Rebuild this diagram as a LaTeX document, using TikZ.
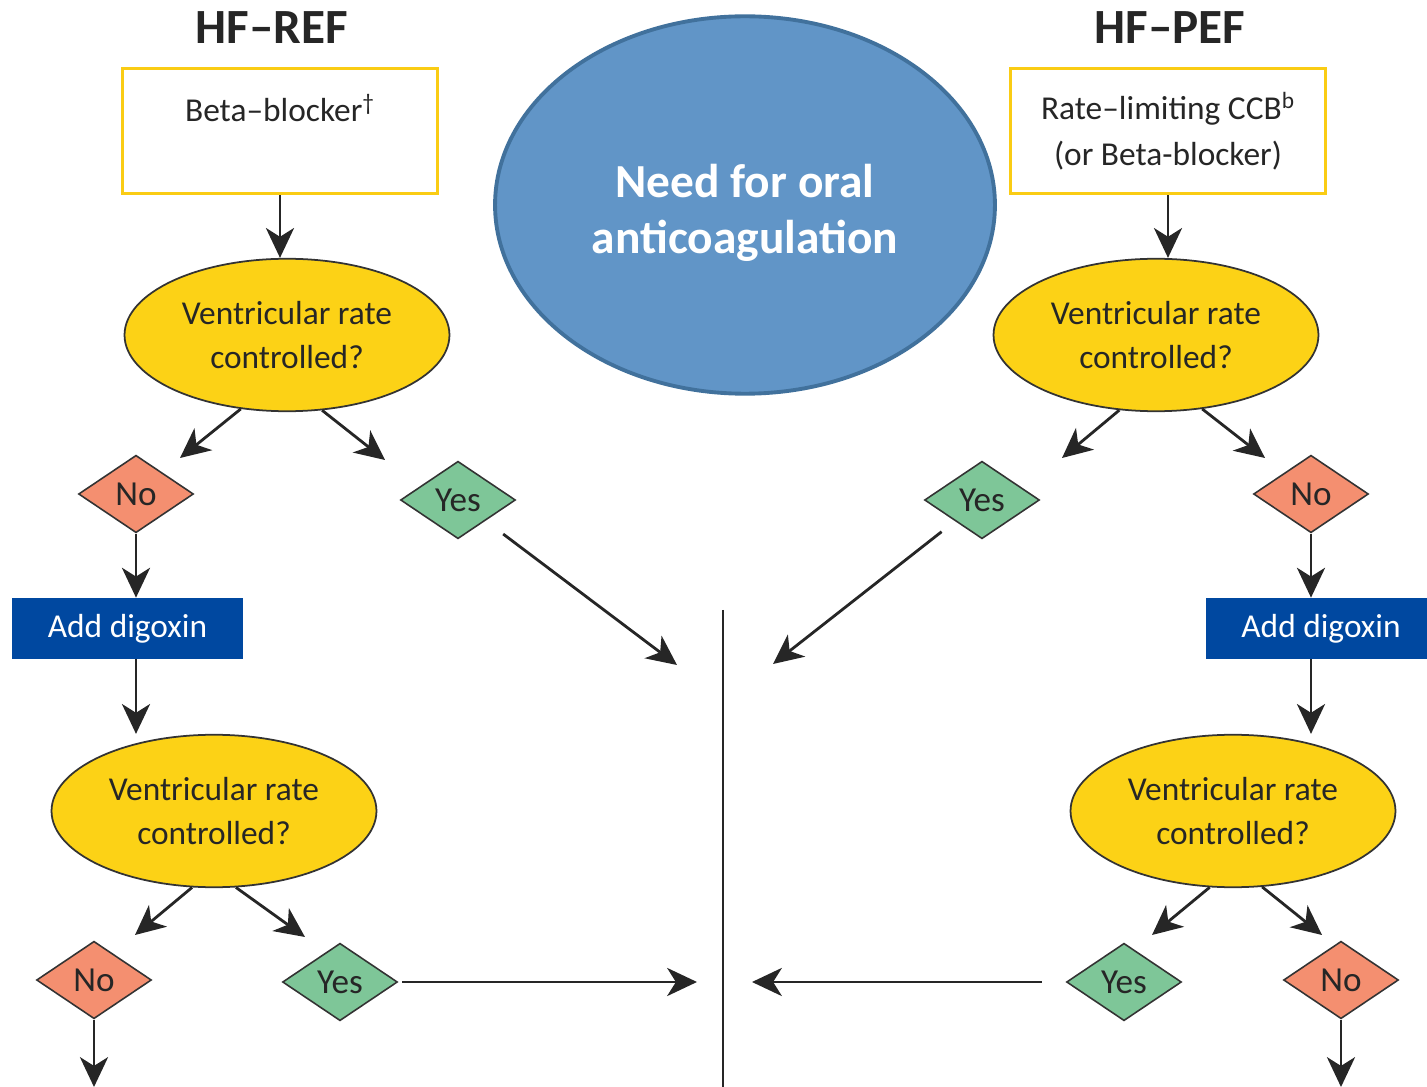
\documentclass[tikz,border=0pt]{standalone}
\usepackage{fontspec}
\setmainfont{Carlito}
\usetikzlibrary{shapes.geometric,arrows.meta}
\definecolor{boxgold}{RGB}{250,204,20}
\definecolor{rateyellow}{RGB}{252,210,22}
\definecolor{nosalmon}{RGB}{244,143,112}
\definecolor{yesgreen}{RGB}{126,198,152}
\definecolor{digblue}{RGB}{0,72,160}
\definecolor{oacblue}{RGB}{97,149,199}
\definecolor{oacborder}{RGB}{65,113,156}
\begin{document}
\begin{tikzpicture}[x=0.02cm, y=-0.02cm,
	heading/.style={font=\fontsize{28}{30}\selectfont\bfseries, text=black!85},
	drug box/.style={draw=boxgold, line width=1.8pt, fill=white, minimum width=6.3cm, minimum height=2.5cm, align=center, font=\fontsize{19}{26}\selectfont, text=black!85},
	rate/.style={ellipse, draw=black!80, line width=1pt, fill=rateyellow, minimum width=6.5cm, minimum height=3.05cm, inner sep=0pt, align=center, font=\fontsize{19}{25}\selectfont, text=black!85},
	no dia/.style={diamond, draw=black!80, line width=0.9pt, fill=nosalmon, minimum width=2.3cm, minimum height=1.55cm, inner sep=0pt, font=\fontsize{20}{22}\selectfont, text=black!85},
	yes dia/.style={no dia, fill=yesgreen},
	digoxin/.style={fill=digblue, text=white, inner sep=0pt, minimum width=4.62cm, minimum height=1.22cm, font=\fontsize{19}{22}\selectfont},
	oac/.style={ellipse, fill=oacblue, draw=oacborder, line width=2.2pt, minimum width=10cm, minimum height=7.55cm},
	oac text/.style={align=center, text=white, font=\fontsize{27}{32}\selectfont\bfseries},
	arr/.style={-{Stealth[length=17pt, width=16pt, inset=5pt]}, line width=1.6pt, black!85}]
		\useasboundingbox (0,0) rectangle (1427,1087);
		% headings and first drugs
		\node[heading] (titleref) at (272,28) {HF–REF};
		\node[heading] (titlepef) at (1170,28) {HF–PEF};
		\node[drug box] (betabox) at (280,131) {Beta–blocker\textsuperscript{†}\\ ~};
		\node[drug box] (ccbbox) at (1168,131) {Rate–limiting CCB\textsuperscript{b}\\(or Beta-blocker)};
		\node[oac] (needoac) at (745,205) {};
		\node[oac text] (oaclabel) at (745,213) {Need for oral\\anticoagulation};
		% rate control questions
		\node[rate] (vrl1) at (287,335) {Ventricular rate\\controlled?};
		\node[rate] (vrr1) at (1156,335) {Ventricular rate\\controlled?};
		\node[rate] (vrl2) at (214,811) {Ventricular rate\\controlled?};
		\node[rate] (vrr2) at (1233,811) {Ventricular rate\\controlled?};
		% answers
		\node[no dia] (nol1) at (136,494) {No};
		\node[yes dia] (yesl1) at (458,500) {Yes};
		\node[yes dia] (yesr1) at (982,500) {Yes};
		\node[no dia] (nor1) at (1311,494) {No};
		\node[no dia] (nol2) at (94,980) {No};
		\node[yes dia] (yesl2) at (340,982) {Yes};
		\node[yes dia] (yesr2) at (1124,982) {Yes};
		\node[no dia] (nor2) at (1341,980) {No};
		\node[digoxin] (digl) at (127.5,628.5) {Add digoxin};
		\node[digoxin] (digr) at (1321,628.5) {Add digoxin};
		% free ends
		\coordinate (tipl1no) at (180,458);
		\coordinate (tipl1yes) at (385,460);
		\coordinate (tipr1yes) at (1062,458);
		\coordinate (tipr1no) at (1265,458);
		\coordinate (tipl2no) at (135,935);
		\coordinate (tipl2yes) at (305,937);
		\coordinate (tipr2yes) at (1152,935);
		\coordinate (tipr2no) at (1322,935);
		\coordinate (midl1) at (677,665);
		\coordinate (midr1) at (773,664);
		\coordinate (midl2) at (697,982);
		\coordinate (midr2) at (752,982);
		\coordinate (outl) at (94,1087);
		\coordinate (outr) at (1341,1087);
		\coordinate (midtop) at (723,610);
		\coordinate (midbot) at (723,1087);
		% connectors
		\draw[arr] (betabox.south) -- (betabox.south |- vrl1.north);
		\draw[arr] (ccbbox.south) -- (ccbbox.south |- vrr1.north);
		\draw[arr] (vrl1.238) -- (tipl1no);
		\draw[arr] (vrl1.295) -- (tipl1yes);
		\draw[arr] (vrr1.244) -- (tipr1yes);
		\draw[arr] (vrr1.302) -- (tipr1no);
		\draw[arr] (vrl2.254) -- (tipl2no);
		\draw[arr] (vrl2.286) -- (tipl2yes);
		\draw[arr] (vrr2.253) -- (tipr2yes);
		\draw[arr] (vrr2.291) -- (tipr2no);
		\draw[arr] (nol1.south) -- (nol1.south |- digl.north);
		\draw[arr] (nol1 |- digl.south) -- (nol1 |- vrl2.north);
		\draw[arr] (nor1.south) -- (nor1.south |- digr.north);
		\draw[arr] (nor1 |- digr.south) -- (nor1 |- vrr2.north);
		\draw[arr, shorten <=0.44cm] (yesl1) -- (midl1);
		\draw[arr, shorten <=0.34cm] (yesr1) -- (midr1);
		\draw[arr, shorten <=0.08cm] (yesl2.east) -- (midl2);
		\draw[arr, shorten <=0.48cm] (yesr2.west) -- (midr2);
		\draw[arr] (nol2.south) -- (outl);
		\draw[arr] (nor2.south) -- (outr);
		\draw[line width=1.6pt, black!85] (midtop) -- (midbot);
\end{tikzpicture}
\end{document}
